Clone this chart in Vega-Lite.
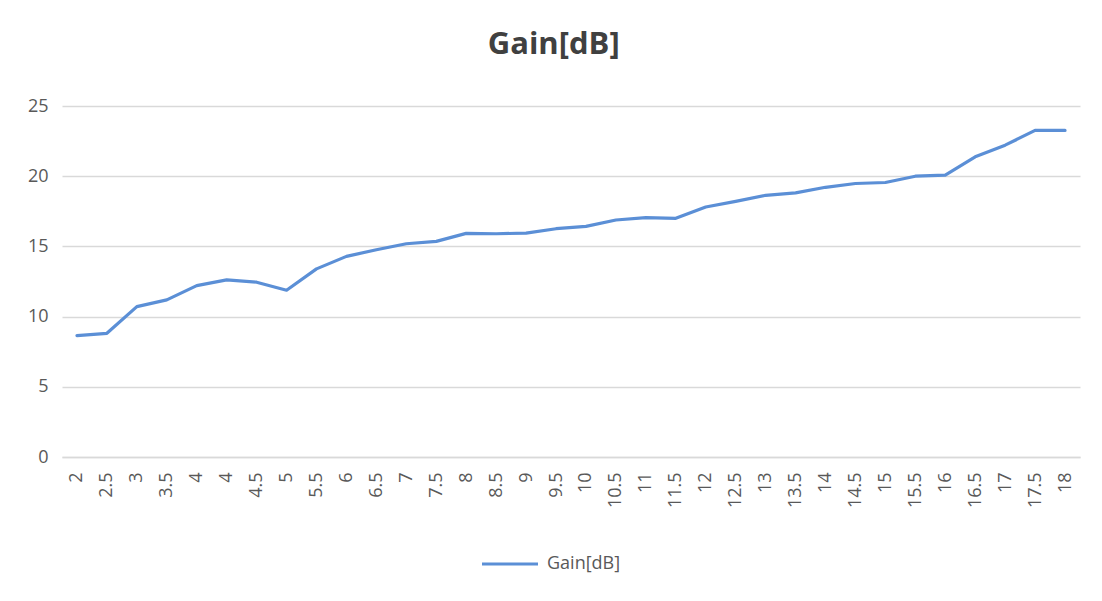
{
  "$schema": "https://vega.github.io/schema/vega-lite/v6.json",
  "autosize": "none",
  "width": 1018,
  "height": 351,
  "padding": {"left": 62, "top": 106, "right": 22, "bottom": 144},
  "background": "white",
  "title": {
    "text": "Gain[dB]",
    "fontSize": 31,
    "fontWeight": "bold",
    "font": "Open Sans",
    "color": "#404040",
    "anchor": "middle",
    "frame": "bounds",
    "offset": 36
  },
  "data": {
    "values": [
      {"f": "2", "gain": 8.64},
      {"f": "2.5", "gain": 8.81},
      {"f": "3", "gain": 10.71},
      {"f": "3.5", "gain": 11.19},
      {"f": "4", "gain": 12.21},
      {"f": "4 ", "gain": 12.62},
      {"f": "4.5", "gain": 12.45},
      {"f": "5", "gain": 11.88},
      {"f": "5.5", "gain": 13.4},
      {"f": "6", "gain": 14.29},
      {"f": "6.5", "gain": 14.76},
      {"f": "7", "gain": 15.19},
      {"f": "7.5", "gain": 15.36},
      {"f": "8", "gain": 15.93},
      {"f": "8.5", "gain": 15.9},
      {"f": "9", "gain": 15.95},
      {"f": "9.5", "gain": 16.26},
      {"f": "10", "gain": 16.43},
      {"f": "10.5", "gain": 16.88},
      {"f": "11", "gain": 17.05},
      {"f": "11.5", "gain": 17.0},
      {"f": "12", "gain": 17.81},
      {"f": "12.5", "gain": 18.21},
      {"f": "13", "gain": 18.64},
      {"f": "13.5", "gain": 18.81},
      {"f": "14", "gain": 19.21},
      {"f": "14.5", "gain": 19.48},
      {"f": "15", "gain": 19.55},
      {"f": "15.5", "gain": 20.0},
      {"f": "16", "gain": 20.07},
      {"f": "16.5", "gain": 21.38},
      {"f": "17", "gain": 22.21},
      {"f": "17.5", "gain": 23.26},
      {"f": "18", "gain": 23.26}
    ]
  },
  "mark": {"type": "line", "strokeWidth": 3.2, "strokeJoin": "round", "strokeCap": "round"},
  "encoding": {
    "x": {
      "field": "f",
      "type": "ordinal",
      "sort": null,
      "scale": {"type": "point", "padding": 0.5},
      "axis": {
        "title": null,
        "labelAngle": -90,
        "labelFontSize": 18,
        "labelFont": "Open Sans",
        "labelColor": "#595959",
        "labelPadding": 15,
        "ticks": false,
        "domainColor": "#D9D9D9",
        "domainWidth": 1.3,
        "grid": false
      }
    },
    "y": {
      "field": "gain",
      "type": "quantitative",
      "scale": {"domain": [0, 25]},
      "axis": {
        "title": null,
        "values": [0, 5, 10, 15, 20, 25],
        "labelFontSize": 18,
        "labelFont": "Open Sans",
        "labelColor": "#595959",
        "labelPadding": 14,
        "ticks": false,
        "domain": false,
        "gridColor": "#D9D9D9",
        "gridWidth": 1.3
      }
    },
    "color": {
      "datum": "Gain[dB]",
      "type": "nominal",
      "scale": {"range": ["#5B8FD6"]},
      "legend": {
        "title": null,
        "orient": "none",
        "legendX": 418,
        "legendY": 428,
        "symbolType": "stroke",
        "symbolSize": 3136,
        "symbolStrokeWidth": 3.2,
        "labelFontSize": 18,
        "labelFont": "Open Sans",
        "labelColor": "#595959",
        "labelOffset": 7
      }
    }
  },
  "config": {"view": {"stroke": null}}
}
